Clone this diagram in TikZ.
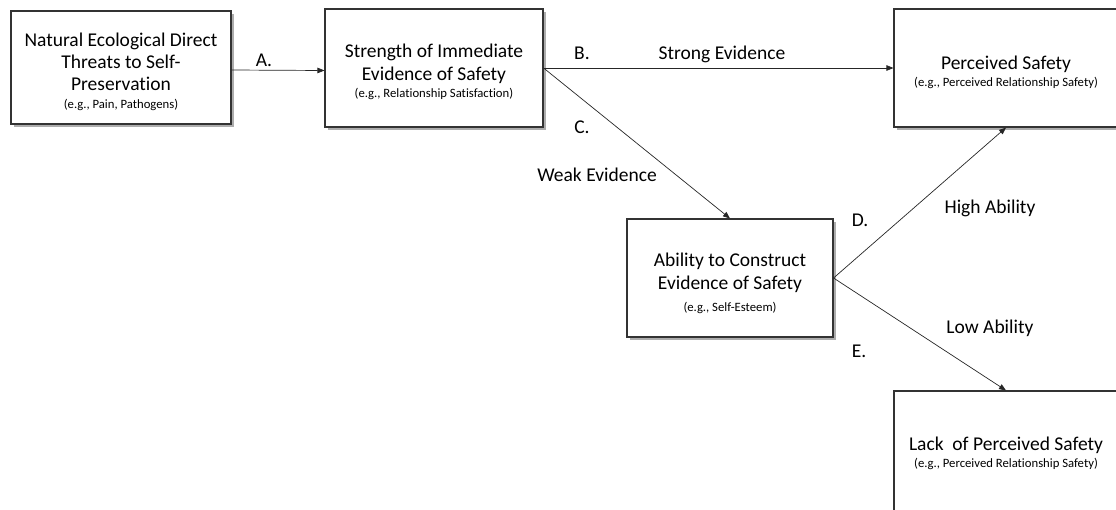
\documentclass[tikz,border=0pt]{standalone}
\usepackage{fontspec}
\setmainfont{Carlito}[Ligatures={NoCommon,NoContextual}]
\usetikzlibrary{arrows.meta,shadows}
\begin{document}
\begin{tikzpicture}[x=1pt,y=-1pt,
  box/.style={draw=black!80, line width=1.1pt, fill=white,
    inner sep=0pt,
    drop shadow={shadow xshift=3pt, shadow yshift=-3pt, fill=black!40, opacity=0.8}},
  boxtext/.style={align=center, inner sep=0pt, font=\fontsize{19.5}{23}\selectfont},
  conn/.style={draw=black!85, line width=0.7pt, -{Triangle[length=7pt,width=5.5pt]}},
  lbl/.style={anchor=base, inner sep=0pt, font=\fontsize{19.5}{23}\selectfont},
]
\useasboundingbox (0,0) rectangle (1116,509);
\newcommand{\eg}[1]{{\fontsize{12.7}{15}\selectfont #1}}
\node[box, minimum width=220pt, minimum height=113pt] (threat) at (121,67.5) {};
\node[box, minimum width=218pt, minimum height=118pt] (strength) at (434,68) {};
\node[box, minimum width=224pt, minimum height=118pt] (safe) at (1006,68) {};
\node[box, minimum width=206pt, minimum height=118pt] (ability) at (730,278) {};
\node[box, minimum width=224pt, minimum height=130pt] (lack) at (1006,456) {};

\node[boxtext] (threattext) at ([yshift=-4.5pt]threat.center)
  {Natural Ecological Direct\\[-1pt]Threats to Self-\\[-1pt]Preservation\\[-5pt]\eg{(e.g., Pain, Pathogens)}};
\node[boxtext] (strengthtext) at ([yshift=-3.5pt]strength.center)
  {Strength of Immediate\\Evidence of Safety\\[-6pt]\eg{(e.g., Relationship Satisfaction)}};
\node[boxtext] (safetext) at ([yshift=-4pt]safe.center)
  {Perceived Safety\\[-6pt]\eg{(e.g., Perceived Relationship Safety)}};
\node[boxtext] (abilitytext) at ([yshift=-5.5pt]ability.center)
  {Ability to Construct\\Evidence of Safety\\[-1pt]\eg{(e.g., Self-Esteem)}};
\node[boxtext] (lacktext) at ([yshift=3pt]lack.center)
  {Lack\ \ of Perceived Safety\\[-6pt]\eg{(e.g., Perceived Relationship Safety)}};

\draw[conn] ([yshift=-2.5pt]threat.east) -- ([yshift=-2.5pt]strength.west);
\draw[conn] (strength.east) -- (safe.west);
\draw[conn] (strength.east) -- (ability.north);
\draw[conn] (ability.east) -- (safe.south);
\draw[conn] (ability.east) -- (lack.north);

\node[lbl] (la) at (264,66) {A.};
\node[lbl] (lb) at (582,59) {B.};
\node[lbl] (lstrong) at (722,59) {Strong Evidence};
\node[lbl] (lc) at (582,133) {C.};
\node[lbl] (lweak) at (597,181) {Weak Evidence};
\node[lbl] (ld) at (860,226) {D.};
\node[lbl] (lhigh) at (990,213) {High Ability};
\node[lbl] (llow) at (990,333) {Low Ability};
\node[lbl] (le) at (859,357) {E.};
\end{tikzpicture}
\end{document}
